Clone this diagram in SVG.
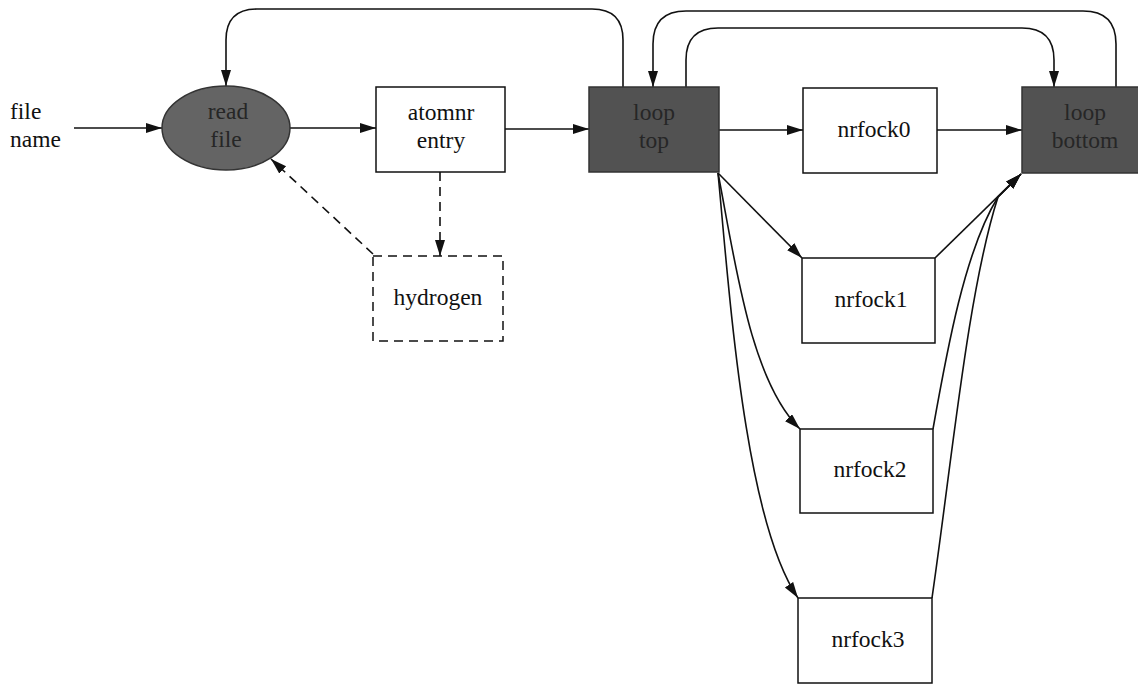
<svg xmlns="http://www.w3.org/2000/svg" width="1138" height="684" viewBox="0 0 1138 684">
<style>
.box{fill:#fff;stroke:#111;stroke-width:1.5}
.dark{fill:#525252;stroke:#333;stroke-width:1.5}
.dash{fill:#fff;stroke:#111;stroke-width:1.5;stroke-dasharray:9,6}
.t{font-family:"Liberation Serif","Times New Roman",serif;font-size:23.5px;fill:#111;text-anchor:middle}
.td{font-family:"Liberation Serif","Times New Roman",serif;font-size:23.5px;fill:#262626;text-anchor:middle}
.e{fill:none;stroke:#111;stroke-width:1.6;marker-end:url(#ah)}
.ed{fill:none;stroke:#111;stroke-width:1.6;stroke-dasharray:9,6;marker-end:url(#ah)}
</style>
<defs>
<marker id="ah" markerUnits="userSpaceOnUse" markerWidth="17" markerHeight="11" refX="16" refY="5" orient="auto">
<path d="M0,0 L16,5 L0,10 z" fill="#111"/>
</marker>
</defs>
<rect width="1138" height="684" fill="#fff"/>
<g id="connectors">
<path class="e" d="M74,128 H162"/>
<path class="e" d="M290,128 H376"/>
<path class="e" d="M505,129 H589"/>
<path class="e" d="M719,130 H803"/>
<path class="e" d="M937,130 H1022"/>
<path class="e" d="M623,87 V40 Q623,9 592,9 H257 Q226,9 226,40 V86"/>
<path class="e" d="M1116,87 V44 Q1116,11 1083,11 H686 Q653,11 653,44 V87"/>
<path class="e" d="M686,87 V60 Q686,28 718,28 H1022 Q1054,28 1054,60 V87"/>
<path class="ed" d="M440,172 V256"/>
<path class="ed" d="M373,254 L271,159"/>
<path class="e" d="M718,173 L802,258"/>
<path class="e" d="M718,173 C735,260 750,380 800,429"/>
<path class="e" d="M718,173 C730,300 745,520 798,598"/>
<path class="e" d="M935,258 L1021,174"/>
<path class="e" d="M933,429 C947,350 965,250 998,197 L1021,174"/>
<path class="e" d="M932,598 C952,460 968,290 998,197 L1021,174"/>
</g>
<g id="filename">
<text class="t" x="10" y="119" style="text-anchor:start">file</text>
<text class="t" x="10" y="147" style="text-anchor:start">name</text>
</g>
<g id="readfile">
<ellipse class="dark" cx="226" cy="128" rx="64" ry="42" style="fill:#646464"/>
<text class="td" x="228" y="119">read</text>
<text class="td" x="226" y="147">file</text>
</g>
<g id="atomnr">
<rect class="box" x="376" y="87" width="129" height="85"/>
<text class="t" x="441" y="120">atomnr</text>
<text class="t" x="441" y="148">entry</text>
</g>
<g id="hydrogen">
<rect class="dash" x="373" y="256" width="130" height="85"/>
<text class="t" x="438" y="305">hydrogen</text>
</g>
<g id="looptop">
<rect class="dark" x="589" y="87" width="130" height="85"/>
<text class="td" x="654" y="120">loop</text>
<text class="td" x="654" y="148">top</text>
</g>
<g id="nrfock0">
<rect class="box" x="803" y="88" width="134" height="85"/>
<text class="t" x="874" y="137">nrfock0</text>
</g>
<g id="loopbottom">
<rect class="dark" x="1022" y="87" width="124" height="86"/>
<text class="td" x="1085" y="120">loop</text>
<text class="td" x="1085" y="148">bottom</text>
</g>
<g id="nrfock1">
<rect class="box" x="802" y="258" width="133" height="85"/>
<text class="t" x="871" y="307">nrfock1</text>
</g>
<g id="nrfock2">
<rect class="box" x="800" y="429" width="133" height="84"/>
<text class="t" x="870" y="477">nrfock2</text>
</g>
<g id="nrfock3">
<rect class="box" x="798" y="598" width="134" height="85"/>
<text class="t" x="868" y="647">nrfock3</text>
</g>
</svg>
